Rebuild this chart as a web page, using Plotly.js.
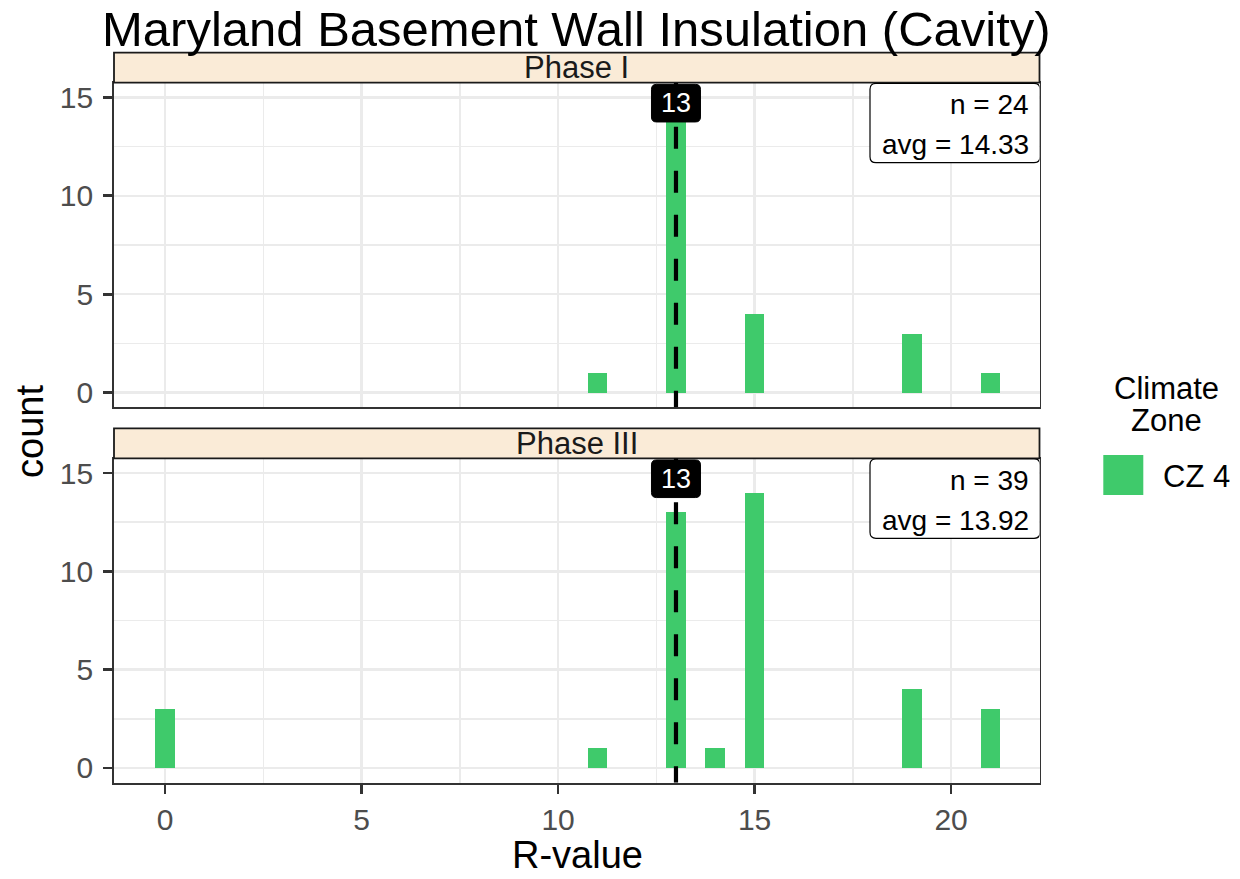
<!DOCTYPE html>
<html>
<head>
<meta charset="utf-8">
<script src="https://cdn.plot.ly/plotly-3.0.1.min.js"></script>
<style>html,body{margin:0;padding:0;background:#fff;}#chart{width:1240px;height:879px;}</style>
</head>
<body>
<div id="chart"></div>
<script>
// ---- data ----
const chartTitle = 'Maryland Basement Wall Insulation (Cavity)';
const phaseLabels = ['Phase I', 'Phase III'];
const rValuesPhase1 = [11, 13, 15, 19, 21];
const countsPhase1 = [1, 15, 4, 3, 1];
const rValuesPhase3 = [0, 11, 13, 14, 15, 19, 21];
const countsPhase3 = [3, 1, 13, 1, 14, 4, 3];
const medianValues = [13, 13];
const seriesName = 'CZ 4';
const legendTitleLines = ['Climate', 'Zone'];
const xTickVals = [0, 5, 10, 15, 20];
const xTickText = ['0', '5', '10', '15', '20'];
const xMinorVals = [2.5, 7.5, 12.5, 17.5];
const yTickVals = [0, 5, 10, 15];
const yTickText = ['0', '5', '10', '15'];
const yMinorVals = [2.5, 7.5, 12.5];
const xTitle = 'R-value';
const yTitle = 'count';

// ---- styling ----
const FONT = 'Liberation Sans, Arial, Helvetica, sans-serif';
const BAR_COLOR = '#3FCA6B';
const W = 1240, H = 879;
const XR = [-1.3, 22.25], YR = [-0.75, 15.75];
const xDom = [114 / W, 1039.5 / W];
const panels = [
  {top: 82.7, bottom: 407.3, strip: 52.7},
  {top: 458.3, bottom: 782.7, strip: 428.3}
];
const py = p => 1 - p / H;

function stats(x, c) {
  let n = 0, s = 0;
  for (let i = 0; i < x.length; i++) { n += c[i]; s += x[i] * c[i]; }
  return {n: n, avg: (s / n).toFixed(2)};
}
function roundRect(x0, y0, x1, y1, r) {
  return `M ${x0 + r},${y0} L ${x1 - r},${y0} Q ${x1},${y0} ${x1},${y0 + r} L ${x1},${y1 - r} Q ${x1},${y1} ${x1 - r},${y1} L ${x0 + r},${y1} Q ${x0},${y1} ${x0},${y1 - r} L ${x0},${y0 + r} Q ${x0},${y0} ${x0 + r},${y0} Z`;
}

const panelData = [
  {x: rValuesPhase1, c: countsPhase1, xa: 'x2', ya: 'y2'},
  {x: rValuesPhase3, c: countsPhase3, xa: 'x', ya: 'y'}
];

const traces = panelData.map(p => ({
  type: 'bar', x: p.x, y: p.c, xaxis: p.xa, yaxis: p.ya, width: 0.5,
  marker: {color: BAR_COLOR, line: {width: 0}}, name: seriesName, showlegend: false,
  hoverinfo: 'x+y'
}));

const gridMajor = '#EBEBEB';
function axisCommon() {
  return {
    showline: true, mirror: true, linecolor: '#333333', linewidth: 1.8,
    showgrid: true, gridcolor: gridMajor, gridwidth: 2.4, zeroline: false,
    ticks: 'outside', ticklen: 9, tickwidth: 2.8, tickcolor: '#333333',
    tickfont: {family: FONT, size: 30, color: '#4D4D4D'},
    fixedrange: true
  };
}
const minorY = {tickmode: 'array', tickvals: yMinorVals, showgrid: true, gridcolor: gridMajor, gridwidth: 1.5, ticks: ''};
const minorX = {tickmode: 'array', tickvals: xMinorVals, showgrid: true, gridcolor: gridMajor, gridwidth: 1.5, ticks: ''};

const layout = {
  width: W, height: H,
  margin: {l: 0, r: 0, t: 0, b: 0},
  paper_bgcolor: '#ffffff', plot_bgcolor: '#ffffff',
  showlegend: false, bargap: 0,
  font: {family: FONT},
  xaxis: Object.assign(axisCommon(), {
    domain: xDom, range: XR, anchor: 'y', tickmode: 'array', tickvals: xTickVals, ticktext: xTickText,
    minor: minorX
  }),
  yaxis: Object.assign(axisCommon(), {
    domain: [py(panels[1].bottom), py(panels[1].top)], range: YR, anchor: 'x',
    tickmode: 'array', tickvals: yTickVals, ticktext: yTickText, ticklabelstandoff: 4,
    minor: minorY
  }),
  xaxis2: Object.assign(axisCommon(), {
    domain: xDom, range: XR, anchor: 'y2', matches: 'x', ticks: '', showticklabels: false,
    tickmode: 'array', tickvals: xTickVals,
    minor: minorX
  }),
  yaxis2: Object.assign(axisCommon(), {
    domain: [py(panels[0].bottom), py(panels[0].top)], range: YR, anchor: 'x2',
    tickmode: 'array', tickvals: yTickVals, ticktext: yTickText, ticklabelstandoff: 4,
    minor: minorY
  }),
  shapes: [],
  annotations: []
};

// title
layout.annotations.push({
  text: chartTitle, xref: 'paper', yref: 'paper', x: 576.5 / W, y: py(29), xanchor: 'center', yanchor: 'middle',
  showarrow: false, font: {family: FONT, size: 49, color: '#000000'}
});
// axis titles
layout.annotations.push({
  text: xTitle, xref: 'paper', yref: 'paper', x: 577 / W, y: py(855), xanchor: 'center', yanchor: 'middle',
  showarrow: false, font: {family: FONT, size: 38, color: '#000000'}
});
layout.annotations.push({
  text: yTitle, xref: 'paper', yref: 'paper', x: 30 / W, y: py(432), xanchor: 'center', yanchor: 'middle',
  textangle: -90, showarrow: false, font: {family: FONT, size: 38, color: '#000000'}
});

// strips + panel annotations
panelData.forEach((p, i) => {
  const pan = panels[i];
  layout.shapes.push({
    type: 'rect', xref: 'paper', yref: 'paper', x0: xDom[0], x1: xDom[1], y0: py(pan.top), y1: py(pan.strip),
    fillcolor: '#FAEBD7', line: {color: '#1A1A1A', width: 1.8}, layer: 'above'
  });
  layout.annotations.push({
    text: phaseLabels[i], xref: 'paper', yref: 'paper', x: (xDom[0] + xDom[1]) / 2, y: py((pan.top + pan.strip) / 2),
    xanchor: 'center', yanchor: 'middle', showarrow: false, font: {family: FONT, size: 31, color: '#1A1A1A'}
  });
  // median dashed line
  layout.shapes.push({
    type: 'line', xref: p.xa, yref: p.ya, x0: medianValues[i], x1: medianValues[i], y0: YR[1], y1: YR[0],
    line: {color: '#000000', width: 4.2, dash: '22px,22px'}, layer: 'above'
  });
  // median label box
  layout.shapes.push({
    type: 'path', xref: p.xa, yref: p.ya, xsizemode: 'pixel', ysizemode: 'pixel',
    xanchor: medianValues[i], yanchor: 14.71,
    path: roundRect(-24.5, -18.8, 24.5, 18.8, 5),
    fillcolor: '#000000', line: {color: '#000000', width: 1}, layer: 'above'
  });
  layout.annotations.push({
    text: String(medianValues[i]), xref: p.xa, yref: p.ya, x: medianValues[i], y: 14.71,
    xanchor: 'center', yanchor: 'middle', showarrow: false, font: {family: FONT, size: 27, color: '#ffffff'}
  });
  // n / avg box
  const st = stats(p.x, p.c);
  layout.shapes.push({
    type: 'path', xref: p.xa, yref: p.ya, xsizemode: 'pixel', ysizemode: 'pixel',
    xanchor: XR[1], yanchor: YR[1],
    path: roundRect(-169.5, -80, 0.5, -0.6, 6),
    fillcolor: '#ffffff', line: {color: '#000000', width: 1.2}, layer: 'above'
  });
  layout.annotations.push({
    text: 'n = ' + st.n, xref: p.xa, yref: p.ya, x: XR[1], y: YR[1], xshift: -9, yshift: -22,
    xanchor: 'right', yanchor: 'middle', showarrow: false, font: {family: FONT, size: 28, color: '#000000'}
  });
  layout.annotations.push({
    text: 'avg = ' + st.avg, xref: p.xa, yref: p.ya, x: XR[1], y: YR[1], xshift: -9, yshift: -62,
    xanchor: 'right', yanchor: 'middle', showarrow: false, font: {family: FONT, size: 28, color: '#000000'}
  });
});

// legend (drawn manually)
layout.annotations.push({
  text: legendTitleLines[0], xref: 'paper', yref: 'paper', x: 1166 / W, y: py(388), xanchor: 'center', yanchor: 'middle',
  showarrow: false, font: {family: FONT, size: 31, color: '#000000'}
});
layout.annotations.push({
  text: legendTitleLines[1], xref: 'paper', yref: 'paper', x: 1166 / W, y: py(420), xanchor: 'center', yanchor: 'middle',
  showarrow: false, font: {family: FONT, size: 31, color: '#000000'}
});
layout.shapes.push({
  type: 'rect', xref: 'paper', yref: 'paper', x0: 1103.3 / W, x1: 1143.3 / W, y0: py(495), y1: py(455),
  fillcolor: BAR_COLOR, line: {width: 0}
});
layout.annotations.push({
  text: seriesName, xref: 'paper', yref: 'paper', x: 1161 / W, y: py(476), xanchor: 'left', yanchor: 'middle',
  showarrow: false, font: {family: FONT, size: 31, color: '#000000'}
});

Plotly.newPlot('chart', traces, layout, {displayModeBar: false, staticPlot: true});
</script>
</body>
</html>
